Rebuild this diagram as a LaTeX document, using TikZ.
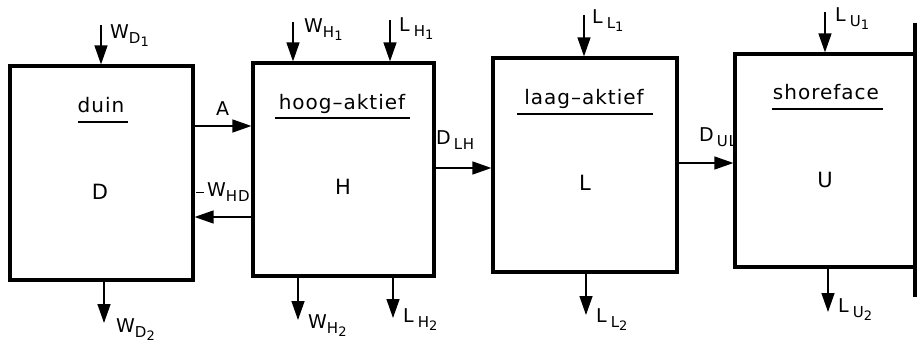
\documentclass[tikz,border=0pt]{standalone}
\usepackage{fontspec}
\setmainfont[LetterSpace=5]{DejaVu Sans}
\usetikzlibrary{arrows.meta}
\newcommand{\flx}[4][0pt]{#2\hspace{#1}\raisebox{-5pt}{\fontsize{15}{15}\selectfont #3\raisebox{-3pt}{\fontsize{13}{13}\selectfont #4}}}
\begin{document}
\begin{tikzpicture}[x=1pt,y=-1pt,
  box/.style={draw,line width=3.2pt,inner sep=0pt},
  arr/.style={line width=1.4pt,-{Triangle[length=19pt,width=13pt]}},
  lab/.style={anchor=west,inner sep=0pt,font=\fontsize{19}{19}\selectfont},
  ttl/.style={anchor=base,inner sep=0pt,font=\fontsize{20}{20}\selectfont},
  sym/.style={inner sep=0pt,font=\fontsize{21}{21}\selectfont},
  uline/.style={line width=1.4pt}]
\useasboundingbox (0,0) rectangle (922,350);
% boxes
\node[box,minimum width=183pt,minimum height=214pt] (D) at (101.5,173) {};
\node[box,minimum width=181pt,minimum height=213pt] (H) at (343.5,169.5) {};
\node[box,minimum width=184pt,minimum height=214pt] (L) at (585,165) {};
\node[box,minimum width=180pt,minimum height=213pt] (U) at (825,160.5) {};
% wall
\coordinate (wt) at (915,23);
\coordinate (wb) at (915,297);
\draw[line width=3.8pt] (wt) -- (wb);
% titles
\node[ttl] (tD) at (101,113) {duin};
\draw[uline] (78,122) -- (128,122);
\node[ttl] (tH) at (342,110) {hoog--aktief};
\draw[uline] (275,118) -- (410,118);
\node[ttl] (tL) at (584,105) {laag--aktief};
\draw[uline] (517,114) -- (653,114);
\node[ttl] (tU) at (826,100) {shoreface};
\draw[uline] (772,109) -- (883,109);
% symbols
\node[sym] (sD) at (100,192) {D};
\node[sym] (sH) at (343,187) {H};
\node[sym] (sL) at (585,183) {L};
\node[sym] (sU) at (825,180) {U};
% horizontal connectors
\draw[arr] (D.east |- 0,126) -- (H.west |- 0,126);
\draw[arr] (H.west |- 0,217) -- (D.east |- 0,217);
\draw[arr] (H.east |- 0,168) -- (L.west |- 0,168);
\draw[arr] (L.east |- 0,163) -- (U.west |- 0,163);
\node[lab] (lA) at (216,109) {A};
\draw[line width=1pt] (196,193) -- (204,193);
\node[lab] (lWHD) at (207,194) {\flx{W}{HD}{}};
\node[lab] (lDLH) at (436,142) {\flx[3pt]{D}{LH}{}};
\node[lab] (lDUL) at (699,139) {\flx[3pt]{D}{UL}{}};
% top inflows
\coordinate (wd1) at (101,25);
\draw[arr] (wd1) -- (wd1 |- D.north);
\node[lab] (lWD1) at (110,36) {\flx{W}{D}{1}};
\coordinate (wh1) at (293,22);
\draw[arr] (wh1) -- (wh1 |- H.north);
\node[lab] (lWH1) at (304,30) {\flx{W}{H}{1}};
\coordinate (lh1) at (390,20);
\draw[arr] (lh1) -- (lh1 |- H.north);
\node[lab] (lLH1) at (399,29) {\flx[4pt]{L}{H}{1}};
\coordinate (ll1) at (584,15);
\draw[arr] (ll1) -- (ll1 |- L.north);
\node[lab] (lLL1) at (592,21) {\flx[4pt]{L}{L}{1}};
\coordinate (lu1) at (825,12);
\draw[arr] (lu1) -- (lu1 |- U.north);
\node[lab] (lLU1) at (835,19) {\flx[4pt]{L}{U}{1}};
% bottom outflows
\coordinate (wd2) at (104,323);
\draw[arr] (wd2 |- D.south) -- (wd2);
\node[lab] (lWD2) at (116,330) {\flx{W}{D}{2}};
\coordinate (wh2) at (298,320);
\draw[arr] (wh2 |- H.south) -- (wh2);
\node[lab] (lWH2) at (308,326) {\flx{W}{H}{2}};
\coordinate (lh2) at (393,318);
\draw[arr] (lh2 |- H.south) -- (lh2);
\node[lab] (lLH2) at (403,320) {\flx[4pt]{L}{H}{2}};
\coordinate (ll2) at (586,315);
\draw[arr] (ll2 |- L.south) -- (ll2);
\node[lab] (lLL2) at (596,320) {\flx[4pt]{L}{L}{2}};
\coordinate (lu2) at (828,312);
\draw[arr] (lu2 |- U.south) -- (lu2);
\node[lab] (lLU2) at (838,310) {\flx[4pt]{L}{U}{2}};
\end{tikzpicture}
\end{document}
